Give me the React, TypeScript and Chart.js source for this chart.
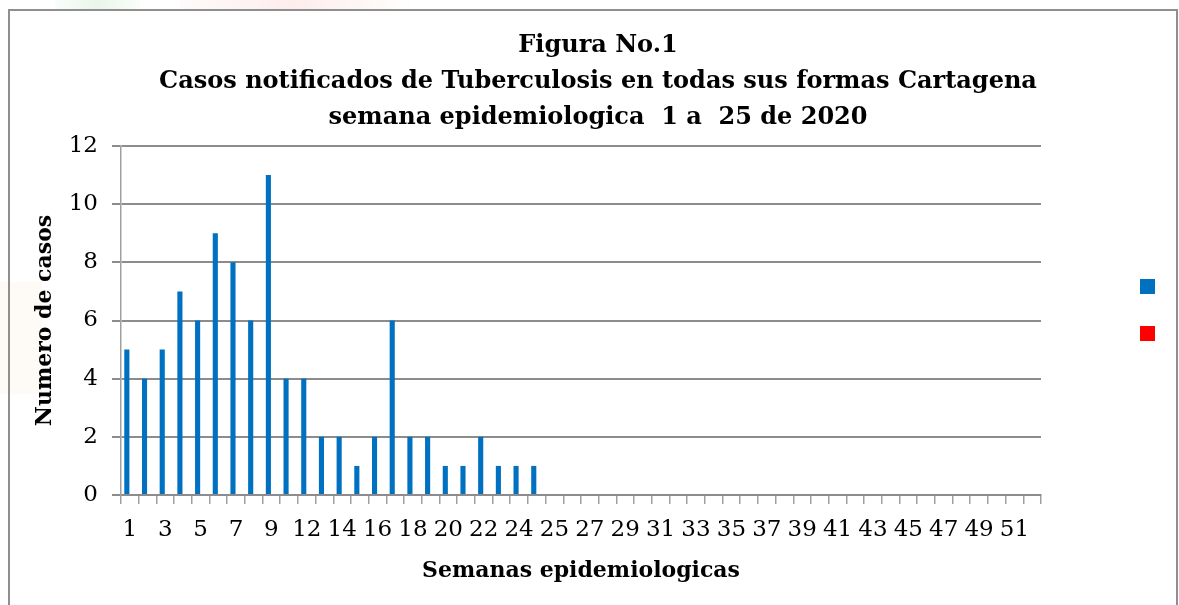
import React, { useEffect, useRef } from "react";
import { Chart, registerables } from "chart.js";

Chart.register(...registerables);

const weekLabels: string[] = [
  "1", "2", "3", "4", "5", "6", "7", "8", "9", "10",
  "12", "13", "14", "15", "16", "17", "18", "19", "20", "21",
  "22", "23", "24", "11", "25", "26", "27", "28", "29", "30",
  "31", "32", "33", "34", "35", "36", "37", "38", "39", "40",
  "41", "42", "43", "44", "45", "46", "47", "48", "49", "50",
  "51", "52",
];

const casos: number[] = [
  5, 4, 5, 7, 6, 9, 8, 6, 11, 4,
  4, 2, 2, 1, 2, 6, 2, 2, 1, 1,
  2, 1, 1, 1, 0, 0, 0, 0, 0, 0,
  0, 0, 0, 0, 0, 0, 0, 0, 0, 0,
  0, 0, 0, 0, 0, 0, 0, 0, 0, 0,
  0, 0,
];

const serieRoja: number[] = [
  0, 0, 0, 0, 0, 0, 0, 0, 0, 0,
  0, 0, 0, 0, 0, 0, 0, 0, 0, 0,
  0, 0, 0, 0, 0, 0, 0, 0, 0, 0,
  0, 0, 0, 0, 0, 0, 0, 0, 0, 0,
  0, 0, 0, 0, 0, 0, 0, 0, 0, 0,
  0, 0,
];

const titleLines: string[] = [
  "Figura No.1",
  "Casos notificados de Tuberculosis en todas sus formas Cartagena",
  "semana epidemiologica  1 a  25 de 2020",
];

const yTicks = { min: 0, max: 12, step: 2 };

const FONT = "'DejaVu Serif', 'Liberation Serif', serif";
const GRID = "#8c8c8c";

const squareLegend = {
  id: "squareLegend",
  afterDraw(chart: any) {
    const ctx = chart.ctx;
    const x = 1140;
    const y0 = 279;
    const gap = 47;
    chart.data.datasets.forEach((ds: any, i: number) => {
      ctx.save();
      ctx.fillStyle = ds.backgroundColor;
      ctx.fillRect(x, y0 + i * gap, 15, 15);
      ctx.restore();
    });
  },
};

export default function App() {
  const canvasRef = useRef<HTMLCanvasElement | null>(null);

  useEffect(() => {
    document.body.style.margin = "0";
    const canvas = canvasRef.current;
    if (!canvas) return;
    const chart = new Chart(canvas, {
      type: "bar",
      data: {
        labels: weekLabels,
        datasets: [
          {
            label: "",
            data: casos,
            backgroundColor: "#0070C0",
            borderWidth: 0,
            categoryPercentage: 0.68,
            barPercentage: 0.85,
          },
          {
            label: "",
            data: serieRoja,
            backgroundColor: "#FF0000",
            borderWidth: 0,
            categoryPercentage: 0.68,
            barPercentage: 0.85,
          },
        ],
      },
      options: {
        animation: false,
        responsive: false,
        maintainAspectRatio: false,
        layout: { padding: { left: 17, right: 0, top: 0, bottom: 21 } },
        plugins: {
          legend: { display: false },
          tooltip: { enabled: false },
          title: {
            display: true,
            text: titleLines,
            color: "#000",
            font: { family: FONT, size: 24, weight: "bold", lineHeight: 1.5 },
            padding: { top: 28, bottom: 10 },
          },
        },
        scales: {
          x: {
            afterFit: (s: any) => {
              s.height = 89;
            },
            grid: {
              display: true,
              offset: true,
              drawOnChartArea: false,
              drawTicks: true,
              tickLength: 9,
              color: "#a0a0a0",
              lineWidth: 1.5,
            },
            border: { display: true, color: GRID, width: 2 },
            ticks: {
              autoSkip: false,
              maxRotation: 0,
              minRotation: 0,
              padding: 12,
              color: "#000",
              font: { family: FONT, size: 23 },
              callback: (_v: any, i: number) => (i % 2 === 0 ? weekLabels[i] : ""),
            },
            title: {
              display: true,
              text: "Semanas epidemiologicas",
              color: "#000",
              font: { family: FONT, size: 22, weight: "bold", lineHeight: 1.2 },
              padding: { top: 0, bottom: 0 },
            },
          },
          y: {
            min: yTicks.min,
            max: yTicks.max,
            afterFit: (s: any) => {
              s.width = 104;
            },
            grid: {
              color: GRID,
              lineWidth: 2,
              drawTicks: true,
              tickLength: 9,
            },
            border: { display: true, color: "#a0a0a0", width: 1.5 },
            ticks: {
              stepSize: yTicks.step,
              padding: 14,
              color: "#000",
              font: { family: FONT, size: 23 },
            },
            title: {
              display: true,
              text: "Numero de casos",
              color: "#000",
              font: { family: FONT, size: 22, weight: "bold", lineHeight: 1.2 },
              padding: { top: 15, bottom: 0 },
            },
          },
          legendSpace: {
            type: "linear",
            position: "right",
            display: true,
            afterFit: (s: any) => {
              s.width = 138;
            },
            grid: { display: false, drawTicks: false },
            border: { display: false },
            ticks: { display: false },
          },
        },
      },
      plugins: [squareLegend],
    });
    return () => chart.destroy();
  }, []);

  return (
    <div
      style={{
        position: "relative",
        width: 1179,
        height: 605,
        overflow: "hidden",
        background: "#ffffff",
      }}
    >
      <div
        style={{
          position: "absolute",
          left: 55,
          top: 0,
          width: 85,
          height: 10,
          background: "linear-gradient(90deg, rgba(220,240,220,0.15), rgba(215,238,215,0.55), rgba(225,242,225,0.15))",
        }}
      />
      <div
        style={{
          position: "absolute",
          left: 180,
          top: 0,
          width: 230,
          height: 10,
          background: "linear-gradient(90deg, rgba(252,225,225,0.15), rgba(252,222,222,0.55), rgba(252,232,232,0.05))",
        }}
      />
      <div
        style={{
          position: "absolute",
          left: 0,
          top: 282,
          width: 42,
          height: 112,
          background: "rgba(253,244,232,0.45)",
        }}
      />
      <div
        style={{
          position: "absolute",
          left: 8,
          top: 9,
          width: 1166,
          height: 700,
          border: "2px solid #8f8f8f",
        }}
      />
      <canvas
        ref={canvasRef}
        width={1179}
        height={605}
        style={{ position: "absolute", left: 0, top: 0, width: 1179, height: 605 }}
      />
    </div>
  );
}
